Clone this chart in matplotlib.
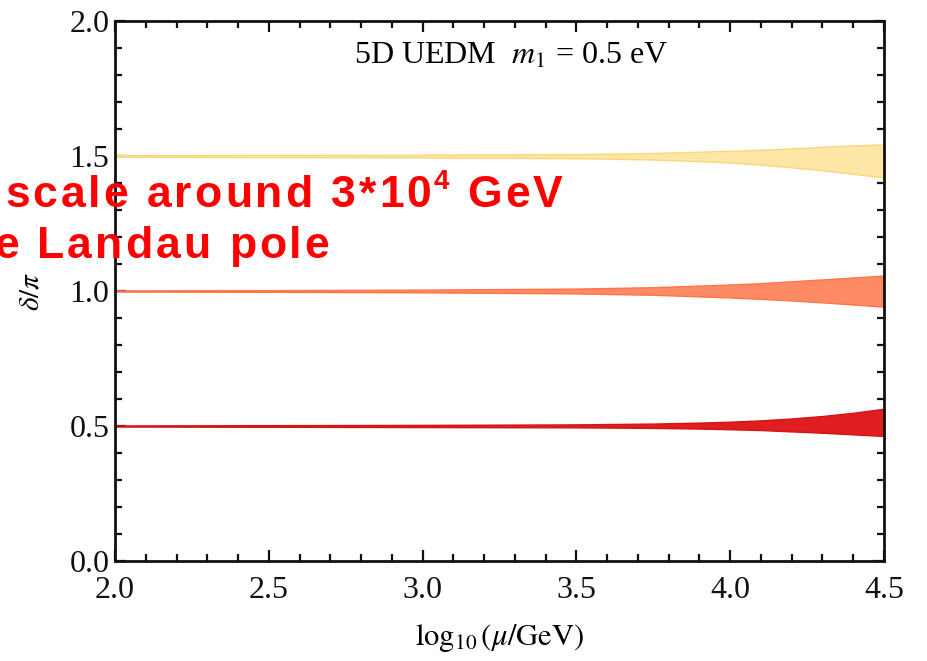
import matplotlib
matplotlib.use("Agg")
import matplotlib.pyplot as plt
from matplotlib.ticker import MultipleLocator

plt.rcParams['mathtext.fontset'] = 'stix'
plt.rcParams['font.family'] = ['Liberation Serif', 'DejaVu Serif']

# data
mu_log = [2.0, 2.5, 3.0, 3.5, 3.75, 3.9, 4.0, 4.1, 4.2, 4.3, 4.4, 4.5]
red_upper = [0.502, 0.503, 0.504, 0.506, 0.509, 0.5126, 0.516, 0.521, 0.528, 0.537, 0.549, 0.564]
red_lower = [0.498, 0.497, 0.496, 0.495, 0.493, 0.4904, 0.488, 0.485, 0.480, 0.475, 0.469, 0.463]
orange_upper = [1.002, 1.003, 1.005, 1.009, 1.014, 1.020, 1.024, 1.029, 1.036, 1.043, 1.050, 1.057]
orange_lower = [0.998, 0.997, 0.995, 0.991, 0.986, 0.980, 0.976, 0.971, 0.965, 0.958, 0.950, 0.942]
yellow_upper = [1.503, 1.504, 1.505, 1.507, 1.511, 1.516, 1.519, 1.523, 1.528, 1.534, 1.539, 1.543]
yellow_lower = [1.497, 1.496, 1.495, 1.492, 1.487, 1.481, 1.476, 1.468, 1.458, 1.447, 1.434, 1.421]
x_ticks = [2.0, 2.5, 3.0, 3.5, 4.0, 4.5]
y_ticks = [0.0, 0.5, 1.0, 1.5, 2.0]

fig = plt.figure(figsize=(9.28, 6.61), dpi=100)
ax = fig.add_axes([115/928, 1 - 561/661, (884 - 115)/928, (561 - 21)/661])

bands = [
    (yellow_lower, yellow_upper, '#FEE7A6', '#FBD77A'),
    (orange_lower, orange_upper, '#FF8B66', '#FF7447'),
    (red_lower, red_upper, '#DF1F1F', '#D41515'),
]
for lo, up, fc, ec in bands:
    ax.fill_between(mu_log, lo, up, facecolor=fc, edgecolor=ec, linewidth=1.0, zorder=2)

ax.set_xlim(2.0, 4.5)
ax.set_ylim(0.0, 2.0)
ax.set_xticks(x_ticks)
ax.set_yticks(y_ticks)
ax.set_xticklabels([f"{v:.1f}" for v in x_ticks])
ax.set_yticklabels([f"{v:.1f}" for v in y_ticks])
ax.xaxis.set_minor_locator(MultipleLocator(0.1))
ax.yaxis.set_minor_locator(MultipleLocator(0.1))
ax.tick_params(which='both', direction='in', top=True, right=True, width=1.6, colors='#111111')
ax.tick_params(which='major', length=8, labelsize=23)
ax.tick_params(which='minor', length=5)
ax.tick_params(axis='x', pad=11)
ax.tick_params(axis='y', pad=4)
for s in ax.spines.values():
    s.set_linewidth(2.0)
    s.set_color('#111111')

ax.set_xlabel(r'$\log_{10}(\mu/\mathrm{GeV})$', fontsize=22, labelpad=12)
ax.set_ylabel(r'$\delta/\pi$', fontsize=21, labelpad=18)

ax.text(0.515, 0.935, r'5D UEDM  $m_1$ = 0.5 eV', transform=ax.transAxes,
        ha='center', va='center', fontsize=23)

# red overlay text, drawn with slight extra letter spacing
fig.canvas.draw()
renderer = fig.canvas.get_renderer()
red_kw = dict(color='#FF0000', fontweight='bold', family=['Liberation Sans', 'DejaVu Sans'])
H = 661
TRACK = 3.0

def piece(xpx, ybase_px, s, size):
    x = xpx
    for ch in s:
        t = fig.text(x / 928, 1 - ybase_px / H, ch, fontsize=size, ha='left', va='baseline', **red_kw)
        if ch == ' ':
            w = size * 100 / 72 * 0.278
        else:
            w = t.get_window_extent(renderer).width
        x += w + TRACK
    return x

xe = piece(5, 207, 'scale around 3*10', 32)
xe = piece(xe - 1, 189, '4', 20)
piece(xe, 207, ' GeV', 32)
piece(-6, 258, 'e Landau pole', 32)

fig.savefig('out.png', dpi=100)
